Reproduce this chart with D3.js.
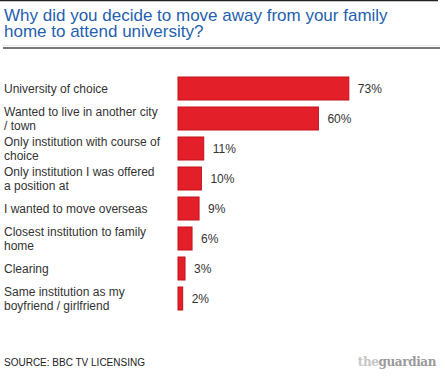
<!DOCTYPE html>
<html>
<head>
<meta charset="utf-8">
<script src="https://cdnjs.cloudflare.com/ajax/libs/d3/7.8.5/d3.min.js"></script>
<style>
  body{margin:0;background:#fff;}
  svg{display:block;font-family:"Liberation Sans",Arial,sans-serif;}
</style>
</head>
<body>
<svg id="chart" width="445" height="384"></svg>
<script>
const titleLines=["Why did you decide to move away from your family","home to attend university?"];
const categories=[
  ["University of choice"],
  ["Wanted to live in another city","/ town"],
  ["Only institution with course of","choice"],
  ["Only institution I was offered","a position at"],
  ["I wanted to move overseas"],
  ["Closest institution to family","home"],
  ["Clearing"],
  ["Same institution as my","boyfriend / girlfriend"]
];
const values=[73,60,11,10,9,6,3,2];
const source="SOURCE: BBC TV LICENSING";

const svg=d3.select("#chart");

// header rules
svg.append("line").attr("x1",0).attr("x2",438).attr("y1",0.5).attr("y2",0.5)
  .attr("stroke","#222").attr("stroke-width",1.5);
svg.append("line").attr("x1",3).attr("x2",440).attr("y1",45.5).attr("y2",45.5)
  .attr("stroke","#e6e6e6").attr("stroke-width",1);
svg.append("line").attr("x1",3).attr("x2",440).attr("y1",48).attr("y2",48)
  .attr("stroke","#777").attr("stroke-width",2);

svg.append("g").selectAll("text")
  .data(titleLines)
  .enter().append("text")
    .attr("x",4)
    .attr("y",(d,i)=>20.5+i*16)
    .attr("fill","#1f5fae")
    .style("font-size","17px")
    .text(d=>d);

const idx=d3.range(values.length);
const x=d3.scaleLinear().domain([0,100]).range([178,412]);
const y=d3.scaleBand().domain(idx).range([73.5,313.5])
  .paddingInner(7/30).paddingOuter(7/60);

const rows=svg.append("g").selectAll("g")
  .data(idx)
  .enter().append("g");

rows.append("rect")
  .attr("x",x(0))
  .attr("y",i=>y(i))
  .attr("width",i=>x(values[i])-x(0))
  .attr("height",y.bandwidth())
  .attr("fill","#e3202a")
  .attr("stroke","#c4111b")
  .attr("stroke-width",1);

rows.append("text")
  .attr("x",i=>x(values[i])+9)
  .attr("y",i=>y(i)+y.bandwidth()/2+4)
  .attr("fill","#333")
  .style("font-size","12px")
  .text(i=>values[i]+"%");

rows.each(function(i){
  const lines=categories[i];
  const c=y(i)+y.bandwidth()/2;
  d3.select(this).selectAll(".cat")
    .data(lines)
    .enter().append("text")
      .attr("class","cat")
      .attr("x",4)
      .attr("y",(d,j)=>c+4+(j-(lines.length-1)/2)*14)
      .attr("fill","#333")
      .style("font-size","12px")
      .text(d=>d);
});

svg.append("text")
  .attr("x",4).attr("y",366)
  .attr("fill","#222")
  .style("font-size","10px")
  .text(source);

const logo=svg.append("text")
  .attr("x",436).attr("y",366)
  .attr("text-anchor","end")
  .style("font-family","'DejaVu Serif',serif")
  .style("font-weight","bold")
  .style("font-size","12px")
  .style("letter-spacing","-0.4px");
logo.append("tspan").attr("fill","#c6c6c6").text("the");
logo.append("tspan").attr("fill","#9a9a9a").text("guardian");
</script>
</body>
</html>
